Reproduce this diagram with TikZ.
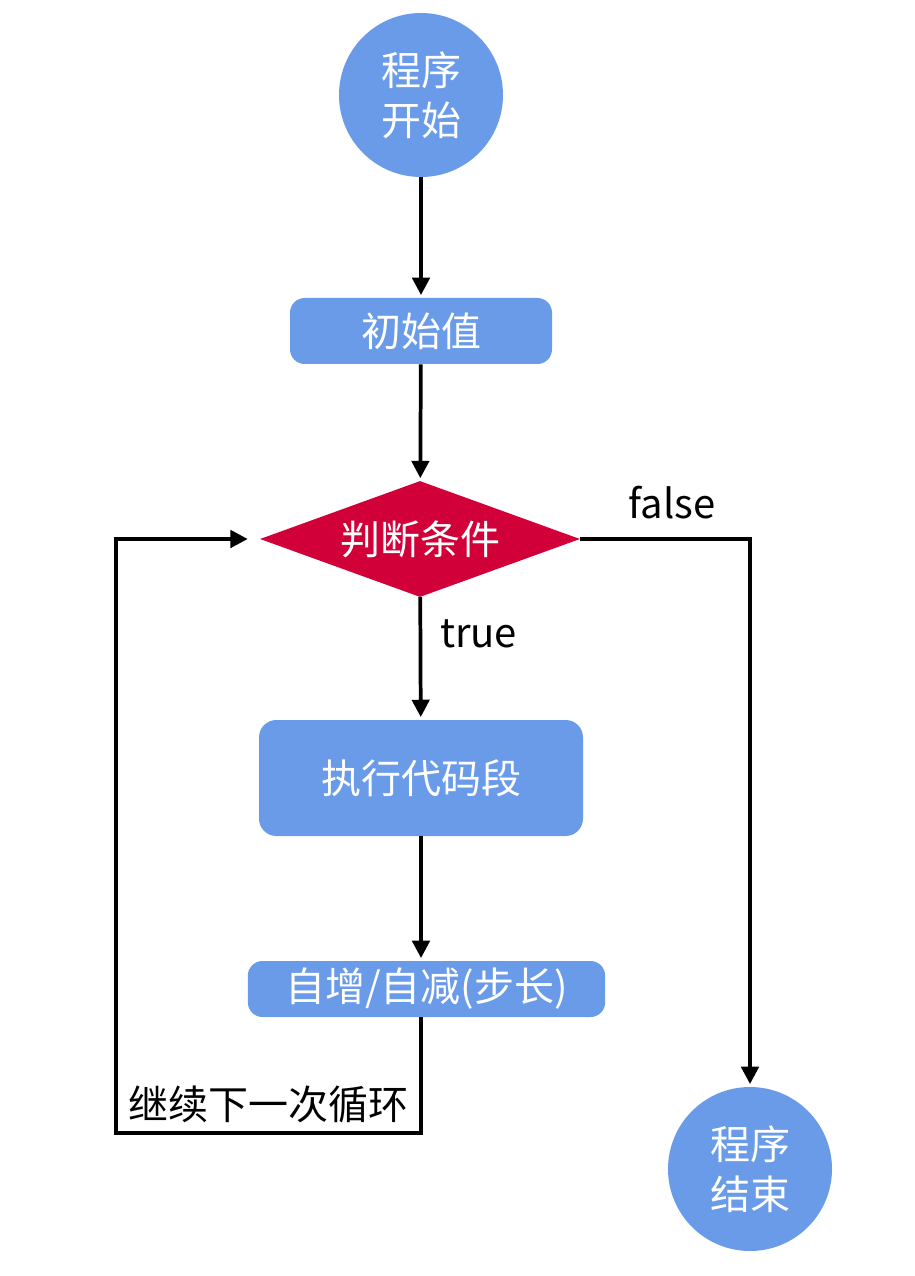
\documentclass[tikz,border=0pt]{standalone}
\usepackage{fontspec}
\setmainfont{Noto Sans CJK SC}
\usetikzlibrary{arrows.meta,shapes.geometric}
\definecolor{boxblue}{RGB}{106,155,232}
\definecolor{condred}{RGB}{209,0,57}
\begin{document}
\begin{tikzpicture}[x=0.75pt, y=-0.75pt,
        font=\fontsize{30}{37.5}\selectfont,
        terminal/.style={circle, fill=boxblue, text=white, minimum size=123pt, inner sep=0pt, align=center},
        stepbox/.style={rectangle, rounded corners=11pt, fill=boxblue, text=white, inner sep=0pt},
        decision/.style={diamond, fill=condred, text=white, shape aspect=2.76, minimum width=240pt, minimum height=87pt, inner sep=0pt},
        flow/.style={line width=2.8pt, -{Triangle[length=13pt, width=13pt]}, shorten >=2pt}]
        \useasboundingbox (0,0) rectangle (914,1276);
        % Nodes
        \node[terminal] (start) at (421,95) {程序\\开始};
        \node[stepbox, minimum width=196.5pt, minimum height=49.5pt] (init) at (421,331) {初始值};
        \node[decision] (cond) at (420,539) {判断条件};
        \node[stepbox, minimum width=243pt, minimum height=87pt, rounded corners=13pt] (body) at (421,778) {执行代码段};
        \node[stepbox, minimum width=268pt, minimum height=42pt] (update) at (426.5,989) {自增/自减(步长)};
        \node[terminal] (stop) at (750,1169) {程序\\结束};
        \coordinate (loopl) at (116,1133);
        % Flow
        \draw[flow] (start) -- (init);
        \draw[flow] (init) -- (cond);
        \draw[flow] (cond) -- node[pos=0.3, right=10pt] {true} (body);
        \draw[flow] (body) -- (body |- update.north);
        \draw[flow] (cond.east) -| node[pos=0.27, above=10pt] {false} (stop.north);
        % Loop back
        \draw[flow, shorten >=9pt] (update.south -| body) |- (loopl) |- (cond.west);
        \node (looplbl) at (268,1104) {继续下一次循环};
\end{tikzpicture}
\end{document}
